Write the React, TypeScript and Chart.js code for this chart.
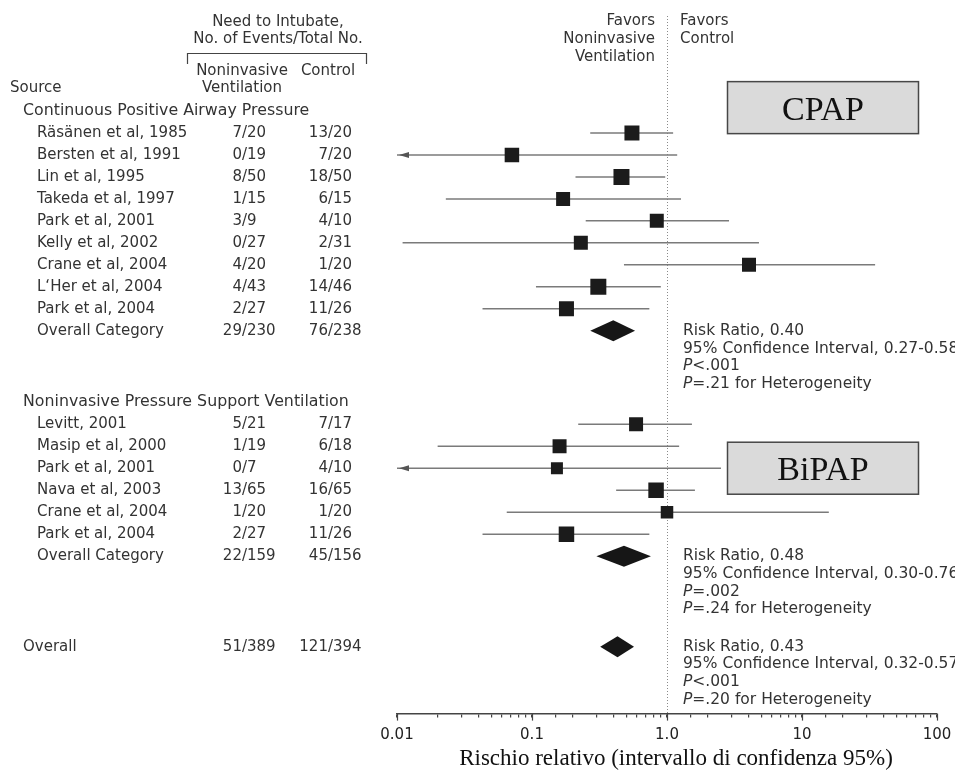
import { useEffect, useRef } from "react"
import { Chart, registerables } from "chart.js"

Chart.register(...registerables)

// Continuous positive airway pressure trials
const cpapSources = [
  "Räsänen et al, 1985",
  "Bersten et al, 1991",
  "Lin et al, 1995",
  "Takeda et al, 1997",
  "Park et al, 2001",
  "Kelly et al, 2002",
  "Crane et al, 2004",
  "L‘Her et al, 2004",
  "Park et al, 2004",
]
const cpapNiv = ["7/20", "0/19", "8/50", "1/15", "3/9", "0/27", "4/20", "4/43", "2/27"]
const cpapControl = ["13/20", "7/20", "18/50", "6/15", "4/10", "2/31", "1/20", "14/46", "11/26"]
const cpapRR = [0.55, 0.071, 0.46, 0.17, 0.84, 0.23, 4.05, 0.31, 0.18]
const cpapLow = [0.27, 0.004, 0.21, 0.023, 0.25, 0.011, 0.48, 0.107, 0.043]
const cpapHigh = [1.11, 1.19, 0.97, 1.27, 2.88, 4.8, 34.8, 0.9, 0.74]

// Noninvasive pressure support ventilation trials
const npsvSources = [
  "Levitt, 2001",
  "Masip et al, 2000",
  "Park et al, 2001",
  "Nava et al, 2003",
  "Crane et al, 2004",
  "Park et al, 2004",
]
const npsvNiv = ["5/21", "1/19", "0/7", "13/65", "1/20", "2/27"]
const npsvControl = ["7/17", "6/18", "4/10", "16/65", "1/20", "11/26"]
const npsvRR = [0.59, 0.16, 0.153, 0.83, 1.0, 0.18]
const npsvLow = [0.22, 0.02, 0.003, 0.42, 0.065, 0.043]
const npsvHigh = [1.53, 1.23, 2.51, 1.61, 15.8, 0.74]

// pooled estimates: CPAP, NPSV, all trials
const pooledLabels = ["Overall Category", "Overall Category", "Overall"]
const pooledNiv = ["29/230", "22/159", "51/389"]
const pooledControl = ["76/238", "45/156", "121/394"]
const pooledRR = [0.4, 0.48, 0.43]
const pooledLow = [0.27, 0.3, 0.32]
const pooledHigh = [0.58, 0.76, 0.57]
const pooledP = ["<.001", "=.002", "<.001"]
const pooledHetP = [".21", ".24", ".20"]

const groupTitles = ["Continuous Positive Airway Pressure", "Noninvasive Pressure Support Ventilation"]
const boxLabels = ["CPAP", "BiPAP"]

const tickValues = [0.01, 0.1, 1, 10, 100]
const tickLabels = ["0.01", "0.1", "1.0", "10", "100"]
const axisTitle = "Rischio relativo (intervallo di confidenza 95%)"

// marker sizes (px, side of square)
const cpapSide = [15, 14.5, 16, 14, 14, 14, 14, 16, 15]
const npsvSide = [14, 14, 12, 15.5, 12.5, 15.5]

const SANS = '"DejaVu Sans", sans-serif'
const SERIF = '"Liberation Serif", "DejaVu Serif", serif'
const TEXT = "#333"

// row layout (in row units)
const GROUP_GAP = 3.25
const FINAL_GAP = 4.12
const cpapHeaderRow = 0
const cpapRows = cpapSources.map((_, i) => cpapHeaderRow + 1 + i)
const cpapTotalRow = cpapHeaderRow + cpapSources.length + 1
const npsvHeaderRow = cpapTotalRow + GROUP_GAP
const npsvRows = npsvSources.map((_, i) => npsvHeaderRow + 1 + i)
const npsvTotalRow = npsvHeaderRow + npsvSources.length + 1
const overallRow = npsvTotalRow + FINAL_GAP
const pooledRows = [cpapTotalRow, npsvTotalRow, overallRow]

const X_MIN = 0.01
const X_MAX = 100

const studies = [
  ...cpapSources.map((name, i) => ({
    name, niv: cpapNiv[i], ctrl: cpapControl[i], rr: cpapRR[i],
    low: cpapLow[i], high: cpapHigh[i], row: cpapRows[i], side: cpapSide[i],
  })),
  ...npsvSources.map((name, i) => ({
    name, niv: npsvNiv[i], ctrl: npsvControl[i], rr: npsvRR[i],
    low: npsvLow[i], high: npsvHigh[i], row: npsvRows[i], side: npsvSide[i],
  })),
]

function txt(ctx: CanvasRenderingContext2D, s: string, x: number, y: number, align: CanvasTextAlign = "left", font = `15px ${SANS}`) {
  ctx.font = font
  ctx.textAlign = align
  ctx.textBaseline = "middle"
  ctx.fillText(s, x, y)
}

// fraction aligned on the slash
function frac(ctx: CanvasRenderingContext2D, s: string, slashX: number, y: number) {
  const [a, b] = s.split("/")
  txt(ctx, a + "/", slashX, y, "right")
  txt(ctx, b, slashX, y, "left")
}

const STAT_FONT = `15.5px ${SANS}`

function pLine(ctx: CanvasRenderingContext2D, rest: string, x: number, y: number) {
  txt(ctx, "P", x, y, "left", `italic ${STAT_FONT}`)
  const w = ctx.measureText("P").width
  txt(ctx, rest, x + w, y, "left", STAT_FONT)
}

const forestPlugin = {
  id: "forest",
  beforeDatasetsDraw(chart: any) {
    const { ctx, chartArea, scales } = chart
    const x1 = Math.round(scales.x.getPixelForValue(1)) + 0.5
    ctx.save()
    ctx.strokeStyle = "#8a8a8a"
    ctx.lineWidth = 1
    ctx.setLineDash([1, 2])
    ctx.beginPath()
    ctx.moveTo(x1, 16)
    ctx.lineTo(x1, chartArea.bottom)
    ctx.stroke()
    ctx.restore()
  },
  afterDatasetsDraw(chart: any) {
    const { ctx, chartArea, scales } = chart
    const { x, y } = scales
    ctx.save()
    // arrows for intervals running past the axis
    ctx.fillStyle = "#555"
    studies.forEach((s) => {
      if (s.low >= X_MIN) return
      const py = y.getPixelForValue(s.row)
      const tip = chartArea.left + 2
      ctx.beginPath()
      ctx.moveTo(tip, py)
      ctx.lineTo(tip + 10, py - 3)
      ctx.lineTo(tip + 10, py + 3)
      ctx.closePath()
      ctx.fill()
    })
    // pooled diamonds
    ctx.fillStyle = "#161616"
    pooledRows.forEach((row, i) => {
      const py = y.getPixelForValue(row)
      const l = x.getPixelForValue(pooledLow[i])
      const c = x.getPixelForValue(pooledRR[i])
      const r = x.getPixelForValue(pooledHigh[i])
      ctx.beginPath()
      ctx.moveTo(l, py)
      ctx.lineTo(c, py - 10.5)
      ctx.lineTo(r, py)
      ctx.lineTo(c, py + 10.5)
      ctx.closePath()
      ctx.fill()
    })
    ctx.restore()
  },
  afterDraw(chart: any) {
    const { ctx, chartArea, scales } = chart
    const { x, y } = scales
    ctx.save()

    // longer marks for the decades
    ctx.strokeStyle = "#444"
    ctx.lineWidth = 1.2
    tickValues.forEach((v) => {
      const px = Math.round(x.getPixelForValue(v)) + 0.5
      ctx.beginPath()
      ctx.moveTo(px, chartArea.bottom)
      ctx.lineTo(px, chartArea.bottom + 7)
      ctx.stroke()
    })

    const x1 = x.getPixelForValue(1)

    // axis title
    ctx.fillStyle = "#111"
    txt(ctx, axisTitle, x1 + 9, 759, "center", `23px ${SERIF}`)

    ctx.fillStyle = TEXT
    const nameX = 37
    const groupX = 23
    const nivX = 247
    const ctrlX = 333

    // column headers
    txt(ctx, "Need to Intubate,", 278, 22, "center")
    txt(ctx, "No. of Events/Total No.", 278, 39, "center")
    txt(ctx, "Noninvasive", 242, 71, "center")
    txt(ctx, "Ventilation", 242, 88, "center")
    txt(ctx, "Control", 328, 71, "center")
    txt(ctx, "Source", 10, 88)
    ctx.strokeStyle = "#444"
    ctx.lineWidth = 1.2
    ctx.beginPath()
    ctx.moveTo(187.5, 64)
    ctx.lineTo(187.5, 53.5)
    ctx.lineTo(366.5, 53.5)
    ctx.lineTo(366.5, 64)
    ctx.stroke()

    // favours labels
    txt(ctx, "Favors", x1 - 12, 21, "right")
    txt(ctx, "Noninvasive", x1 - 12, 39, "right")
    txt(ctx, "Ventilation", x1 - 12, 57, "right")
    txt(ctx, "Favors", x1 + 13, 21)
    txt(ctx, "Control", x1 + 13, 39)

    // groups
    const groupFont = `15.8px ${SANS}`
    txt(ctx, groupTitles[0], groupX, y.getPixelForValue(cpapHeaderRow), "left", groupFont)
    txt(ctx, groupTitles[1], groupX, y.getPixelForValue(npsvHeaderRow), "left", groupFont)
    studies.forEach((s) => {
      const py = y.getPixelForValue(s.row)
      txt(ctx, s.name, nameX, py)
      frac(ctx, s.niv, nivX, py)
      frac(ctx, s.ctrl, ctrlX, py)
    })
    pooledRows.forEach((row, i) => {
      const py = y.getPixelForValue(row)
      txt(ctx, pooledLabels[i], i < 2 ? nameX : groupX, py)
      frac(ctx, pooledNiv[i], nivX, py)
      frac(ctx, pooledControl[i], ctrlX, py)
      const sx = x1 + 16
      txt(ctx, `Risk Ratio, ${pooledRR[i].toFixed(2)}`, sx, py, "left", STAT_FONT)
      txt(ctx, `95% Confidence Interval, ${pooledLow[i].toFixed(2)}-${pooledHigh[i].toFixed(2)}`, sx, py + 17.7, "left", STAT_FONT)
      pLine(ctx, pooledP[i], sx, py + 35.4)
      pLine(ctx, `=${pooledHetP[i]} for Heterogeneity`, sx, py + 53.1)
    })

    // CPAP / BiPAP boxes
    const boxRows = [cpapHeaderRow - 0.15, npsvRows[2]]
    boxRows.forEach((row, i) => {
      const cy = y.getPixelForValue(row)
      const left = 727.5
      const right = 918.5
      ctx.fillStyle = "#dadada"
      ctx.fillRect(left, cy - 26, right - left, 52)
      ctx.strokeStyle = "#474747"
      ctx.lineWidth = 1.5
      ctx.strokeRect(left, cy - 26, right - left, 52)
      ctx.fillStyle = "#111"
      ctx.font = `34px ${SERIF}`
      ctx.textAlign = "center"
      ctx.textBaseline = "alphabetic"
      ctx.fillText(boxLabels[i], (left + right) / 2, cy + 12)
    })

    ctx.restore()
  },
}

export default function App() {
  const canvasRef = useRef<HTMLCanvasElement>(null)

  useEffect(() => {
    if (!canvasRef.current) return

    const ciSets = studies.map((s) => ({
      type: "line" as const,
      data: [
        { x: s.low, y: s.row },
        { x: s.high, y: s.row },
      ],
      borderColor: "#7a7a7a",
      borderWidth: 1.5,
      pointRadius: 0,
      showLine: true,
      order: 2,
    }))

    const chart = new Chart(canvasRef.current, {
      type: "scatter",
      data: {
        datasets: [
          ...ciSets,
          {
            type: "scatter" as const,
            data: studies.map((s) => ({ x: s.rr, y: s.row })),
            pointStyle: "rect",
            pointRadius: studies.map((s) => s.side / Math.SQRT2),
            pointBackgroundColor: "#1b1b1b",
            pointBorderWidth: 0,
            order: 1,
          },
        ] as any,
      },
      options: {
        animation: false,
        responsive: true,
        maintainAspectRatio: false,
        layout: { autoPadding: false, padding: { left: 397, right: 18, top: 0, bottom: 18.4 } },
        plugins: { legend: { display: false }, tooltip: { enabled: false } },
        events: [],
        scales: {
          x: {
            type: "logarithmic",
            min: X_MIN,
            max: X_MAX,
            afterFit: (scale: any) => {
              // labels may overhang the plot edges
              scale.paddingLeft = 0
              scale.paddingRight = 0
            },
            grid: { display: true, drawOnChartArea: false, drawTicks: true, tickLength: 4, color: "#444", lineWidth: 1.2 },
            border: { display: true, color: "#444", width: 1.5 },
            ticks: {
              autoSkip: false,
              maxRotation: 0,
              padding: 9,
              color: "#222",
              font: { family: SANS, size: 15 },
              callback: (value: any) => {
                const i = tickValues.findIndex((t) => Math.abs(t - Number(value)) < t * 1e-6)
                return i >= 0 ? tickLabels[i] : ""
              },
            },
          },
          y: {
            type: "linear",
            display: false,
            reverse: true,
            min: -5.045,
            max: 27.41,
          },
        },
      },
      plugins: [forestPlugin],
    })

    return () => chart.destroy()
  }, [])

  return (
    <div style={{ position: "absolute", left: 0, top: 0, width: 955, height: 772, background: "#fff" }}>
      <canvas ref={canvasRef} />
    </div>
  )
}
